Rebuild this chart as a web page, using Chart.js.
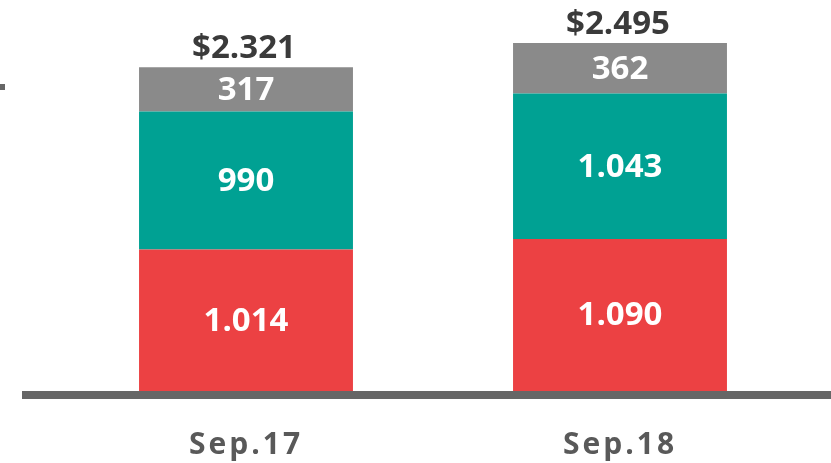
<!DOCTYPE html>
<html>
<head>
<meta charset="utf-8">
<script src="https://cdn.jsdelivr.net/npm/chart.js@4/dist/chart.umd.min.js"></script>
<style>
  html, body { margin: 0; padding: 0; background: #fff; }
  #wrap { position: relative; width: 831px; height: 463px; }
</style>
</head>
<body>
<div id="wrap"><canvas id="chart" width="831" height="463"></canvas></div>
<script>
const categories = ['Sep.17', 'Sep.18'];
const seriesRed = [1014, 1090];
const seriesTeal = [990, 1043];
const seriesGray = [317, 362];
const totalLabels = ['$2.321', '$2.495'];

const fmt = v => v >= 1000 ? Math.floor(v / 1000) + '.' + String(v % 1000).padStart(3, '0') : String(v);

// labels inside segments, totals on top, baseline
const labelsPlugin = {
    id: 'labels',
    beforeDraw(chart) {
        chart.ctx.letterSpacing = '3px';
    },
    beforeDatasetsDraw(chart) {
        chart.ctx.letterSpacing = '0px';
    },
    afterDatasetsDraw(chart) {
        const ctx = chart.ctx;
        const area = chart.chartArea;
        ctx.save();
        ctx.font = 'bold 33px "Open Sans"';
        ctx.textAlign = 'center';
        ctx.textBaseline = 'middle';
        chart.data.datasets.forEach((ds, i) => {
            chart.getDatasetMeta(i).data.forEach((bar, j) => {
                ctx.fillStyle = '#ffffff';
                ctx.fillText(fmt(ds.data[j]), bar.x, (bar.y + bar.base) / 2 + 1);
            });
        });
        const top = chart.getDatasetMeta(chart.data.datasets.length - 1).data;
        ctx.fillStyle = '#3a3a3a';
        ctx.textBaseline = 'alphabetic';
        top.forEach((bar, j) => {
            ctx.fillText(totalLabels[j], bar.x - 2, bar.y - 9);
        });
        // baseline
        ctx.fillStyle = '#666666';
        ctx.fillRect(22, area.bottom, chart.width - 22, 8);
        ctx.fillRect(0, 84, 5, 6);
        ctx.restore();
    }
};

new Chart(document.getElementById('chart'), {
    type: 'bar',
    data: {
        labels: categories,
        datasets: [
            { label: 'A', data: seriesRed, backgroundColor: '#EC4143' },
            { label: 'B', data: seriesTeal, backgroundColor: '#00A193' },
            { label: 'C', data: seriesGray, backgroundColor: '#8A8A8A' }
        ]
    },
    options: {
        responsive: false,
        animation: false,
        layout: { padding: { left: 59, right: 24, top: 0, bottom: 0 } },
        plugins: { legend: { display: false }, tooltip: { enabled: false } },
        datasets: { bar: { barPercentage: 0.572, categoryPercentage: 1 } },
        scales: {
            x: {
                stacked: true,
                grid: { display: false, drawTicks: false },
                border: { display: false },
                ticks: {
                    color: '#595959',
                    font: { family: 'Open Sans', size: 30, weight: 'bold' },
                    padding: 36
                },
                afterFit(scale) { scale.height = 72; }
            },
            y: {
                stacked: true,
                display: false,
                min: 0,
                max: 2803
            }
        }
    },
    plugins: [labelsPlugin]
});
</script>
</body>
</html>
